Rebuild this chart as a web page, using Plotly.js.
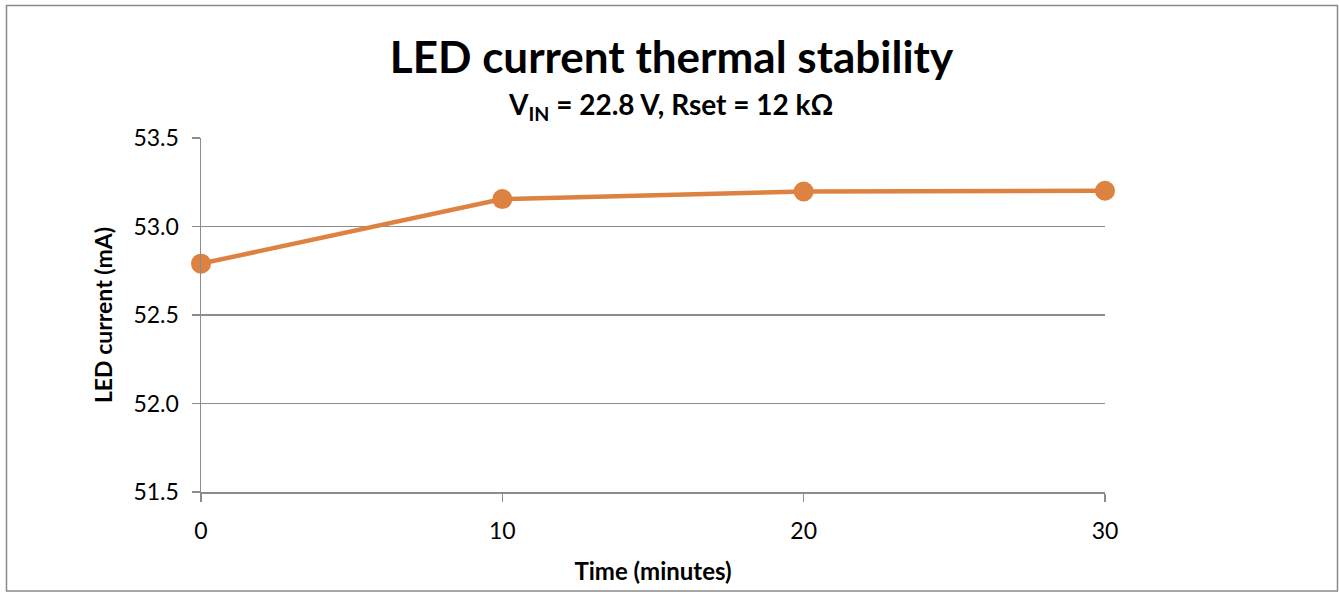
<!DOCTYPE html>
<html>
<head>
<meta charset="utf-8">
<script src="https://cdn.plot.ly/plotly-3.0.1.min.js"></script>
<style>
  html, body { margin: 0; padding: 0; background: #ffffff; }
  #chart { width: 1339px; height: 592px; }
</style>
</head>
<body>
<div id="chart"></div>
<script>
const timeMinutes = [0, 10, 20, 30];
const ledCurrent = [52.79, 53.155, 53.198, 53.202];
const xTicks = [0, 10, 20, 30];
const yTicks = [51.5, 52.0, 52.5, 53.0, 53.5];
const yTickLabels = ["51.5", "52.0", "52.5", "53.0", "53.5"];

const FONT = "Lato, 'Open Sans', sans-serif";
const gridColor = "#8c8c8c";
const lineColor = "#dd8240";

const trace = {
  x: timeMinutes,
  y: ledCurrent,
  type: "scatter",
  mode: "lines+markers",
  line: { color: lineColor, width: 4.5 },
  marker: { color: lineColor, size: 20 },
  cliponaxis: false,
  hoverinfo: "x+y"
};

// plot area: x 201..1105, y 138..492
const L = 201, R = 1105, T = 138, B = 492;
const pw = R - L, ph = B - T;
const px = v => (v - L) / pw;
const py = v => (B - v) / ph;

const layout = {
  width: 1339,
  height: 592,
  margin: { l: L, r: 1339 - R, t: T, b: 592 - B, pad: 0 },
  paper_bgcolor: "#ffffff",
  plot_bgcolor: "#ffffff",
  showlegend: false,
  font: { family: FONT, color: "#000000" },
  title: {
    text: "<b>LED current thermal stability</b>",
    font: { family: FONT, size: 44, color: "#000000" },
    x: 0.5015, xanchor: "center",
    y: 1 - 58 / 592, yref: "container", yanchor: "middle"
  },
  annotations: [{
    text: "<b>V<sub>IN</sub> = 22.8 V, Rset = 12 kΩ</b>",
    xref: "paper", yref: "paper",
    x: px(670), y: py(106),
    xanchor: "center", yanchor: "middle",
    showarrow: false,
    font: { family: FONT, size: 28, color: "#000000" }
  }],
  xaxis: {
    range: [0, 30],
    tickvals: xTicks,
    ticktext: xTicks.map(String),
    showgrid: false,
    zeroline: false,
    showline: true,
    linecolor: gridColor,
    linewidth: 1.5,
    ticks: "outside",
    ticklen: 8,
    tickwidth: 1.5,
    tickcolor: gridColor,
    ticklabelstandoff: 10,
    tickfont: { family: FONT, size: 23, color: "#000000" },
    title: {
      text: "<b>Time (minutes)</b>",
      font: { family: FONT, size: 24, color: "#000000" },
      standoff: 20
    },
    fixedrange: true
  },
  yaxis: {
    range: [51.5, 53.5],
    tickvals: yTicks,
    ticktext: yTickLabels,
    showgrid: true,
    gridcolor: gridColor,
    gridwidth: 1.5,
    zeroline: false,
    showline: true,
    linecolor: gridColor,
    linewidth: 1.5,
    ticks: "outside",
    ticklen: 8,
    tickwidth: 1.5,
    tickcolor: gridColor,
    ticklabelstandoff: 8,
    tickfont: { family: FONT, size: 23, color: "#000000" },
    title: {
      text: "<b>LED current (mA)</b>",
      font: { family: FONT, size: 23, color: "#000000" },
      standoff: 14
    },
    fixedrange: true
  },
  shapes: [{
    type: "rect",
    xref: "paper", yref: "paper",
    x0: px(6.5), x1: px(1337.5),
    y0: py(591), y1: py(5.5),
    line: { color: "#8a8a8a", width: 1.5 },
    fillcolor: "rgba(0,0,0,0)",
    layer: "below"
  }]
};

Plotly.newPlot("chart", [trace], layout, { displayModeBar: false, staticPlot: true });
</script>
</body>
</html>
